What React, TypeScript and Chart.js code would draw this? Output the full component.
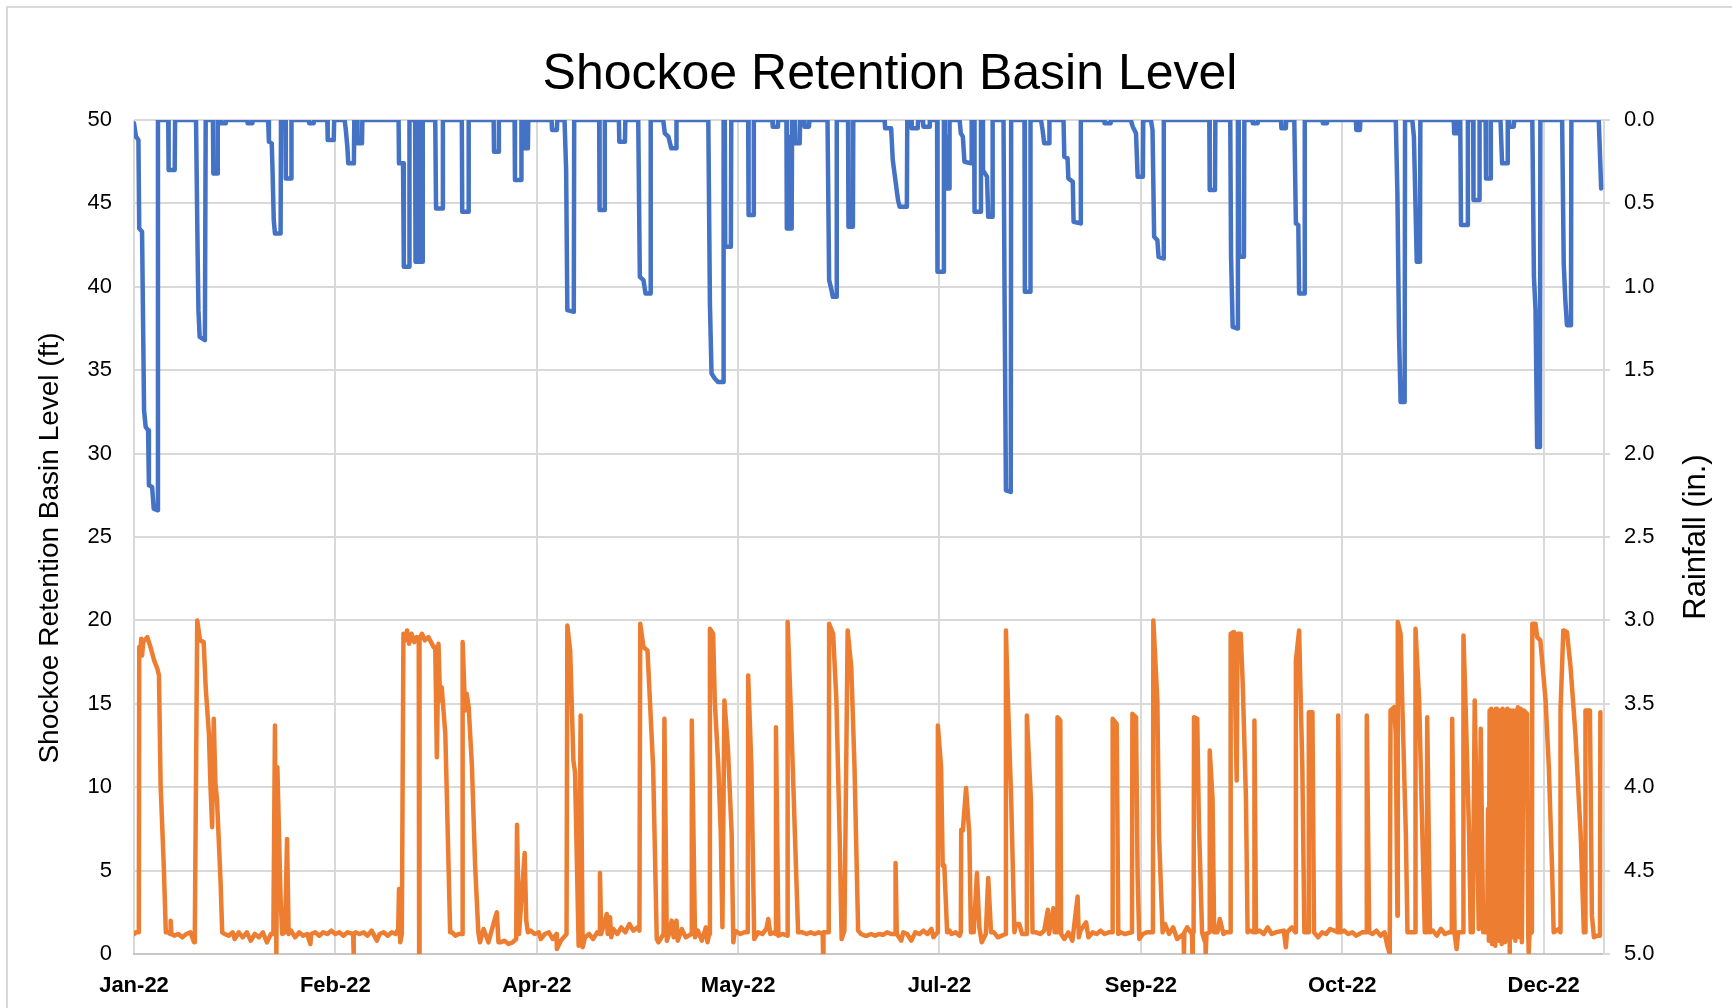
import React, { useEffect, useRef } from 'react';
import { Chart, registerables } from 'chart.js';

Chart.register(...registerables);

// ---------- text ----------
const CHART_TITLE = 'Shockoe Retention Basin Level';
const LEFT_AXIS_TITLE = 'Shockoe Retention Basin Level (ft)';
const RIGHT_AXIS_TITLE = 'Rainfall (in.)';
const MONTHS = ['Jan', 'Feb', 'Mar', 'Apr', 'May', 'Jun', 'Jul', 'Aug', 'Sep', 'Oct', 'Nov', 'Dec'];

// ---------- axes (x = days since 1 Jan 2022) ----------
const START_UTC = Date.UTC(2022, 0, 1);
const X_MIN = 0;
const X_MAX = 365;
const X_STEP = 50;
const LEVEL_MIN = 0;
const LEVEL_MAX = 50;
const LEVEL_STEP = 5;
const RAIN_MIN = 0;
const RAIN_MAX = 5;
const RAIN_STEP = 0.5;

// ---------- series: [day, rainfall in.] (right axis, reversed) ----------
const rainfall: [number, number][] = [
  [0, 0.02], [0.5, 0.1], [1.1, 0.12], [1.3, 0.65], [2.0, 0.67], [2.5, 1.74], [2.9, 1.84], [3.5, 1.86], [3.7, 2.19], [4.5, 2.2], [4.9, 2.33], [5.8, 2.34], [5.95, 0],
  [8.5, 0], [8.6, 0.3], [10.1, 0.3], [10.2, 0],
  [15.4, 0], [15.8, 0.8], [16.0, 1.14], [16.3, 1.3], [17.6, 1.32], [17.8, 0],
  [19.6, 0], [19.7, 0.32], [20.7, 0.32], [20.8, 0],
  [21.5, 0], [21.6, 0.02], [22.7, 0.02], [22.8, 0],
  [28.1, 0], [28.2, 0.02], [29.3, 0.02], [29.4, 0],
  [33.3, 0], [33.5, 0.13], [34.2, 0.14], [34.4, 0.3], [34.7, 0.6], [35.0, 0.68], [36.4, 0.68], [36.5, 0],
  [37.6, 0], [37.7, 0.35], [39.0, 0.35], [39.1, 0],
  [43.4, 0], [43.5, 0.02], [44.6, 0.02], [44.7, 0],
  [48.0, 0], [48.1, 0.12], [49.6, 0.12], [49.7, 0],
  [52.3, 0], [52.6, 0.06], [53.0, 0.17], [53.2, 0.26], [54.6, 0.26], [54.7, 0], [55.4, 0], [55.5, 0.14], [56.6, 0.14], [56.7, 0],
  [65.7, 0], [65.8, 0.26], [66.8, 0.26], [67.0, 0.88], [68.3, 0.88], [68.4, 0],
  [69.8, 0], [69.9, 0.85], [70.2, 0.85], [70.3, 0], [70.5, 0.85], [70.8, 0], [71.0, 0.85], [71.6, 0.85], [71.7, 0],
  [74.8, 0], [75.0, 0.53], [76.6, 0.53], [76.7, 0],
  [81.4, 0], [81.5, 0.55], [83.0, 0.55], [83.1, 0],
  [89.3, 0], [89.4, 0.19], [90.5, 0.19], [90.6, 0],
  [94.5, 0], [94.6, 0.36], [96.1, 0.36], [96.2, 0], [96.7, 0], [96.8, 0.17], [97.8, 0.17], [97.9, 0],
  [103.7, 0], [103.8, 0.06], [105.0, 0.06], [105.1, 0],
  [106.9, 0], [107.3, 0.3], [107.6, 1.14], [109.2, 1.15], [109.3, 0],
  [115.5, 0], [115.6, 0.54], [116.8, 0.54], [116.9, 0],
  [120.4, 0], [120.5, 0.13], [121.9, 0.13], [122.0, 0],
  [125.2, 0], [125.6, 0.94], [126.5, 0.96], [127.0, 1.04], [128.2, 1.04], [128.3, 0],
  [131.4, 0], [131.8, 0.08], [132.7, 0.1], [133.4, 0.17], [134.6, 0.17], [134.7, 0],
  [142.6, 0], [143.0, 1.1], [143.4, 1.52], [144.2, 1.55], [145.0, 1.57], [146.3, 1.57], [146.4, 0],
  [146.7, 0], [146.8, 0.76], [148.2, 0.76], [148.3, 0],
  [152.5, 0], [152.6, 0.57], [153.8, 0.57], [153.9, 0],
  [158.5, 0], [158.6, 0.04], [159.8, 0.04], [159.9, 0],
  [162.0, 0], [162.1, 0.65], [162.5, 0.65], [162.6, 0.1], [162.7, 0.65], [163.3, 0.65], [163.4, 0],
  [164.1, 0], [164.2, 0.14], [165.3, 0.14], [165.4, 0],
  [166.4, 0], [166.5, 0.04], [167.6, 0.04], [167.7, 0],
  [172.2, 0], [172.6, 0.96], [173.2, 1.02], [173.5, 1.06], [174.4, 1.06], [174.5, 0],
  [177.3, 0], [177.4, 0.64], [178.5, 0.64], [178.6, 0],
  [186.4, 0], [186.5, 0.05], [188.0, 0.05], [188.4, 0.24], [189.7, 0.48], [190.1, 0.52], [191.9, 0.52], [192.0, 0],
  [193.0, 0], [193.1, 0.05], [194.6, 0.05], [194.7, 0],
  [195.9, 0], [196.0, 0.04], [197.5, 0.04], [197.6, 0],
  [199.4, 0], [199.5, 0.91], [201.0, 0.91], [201.1, 0], [201.3, 0], [201.4, 0.41], [201.8, 0.1], [202.0, 0.41], [202.4, 0.41], [202.5, 0],
  [205.0, 0], [205.3, 0.08], [205.8, 0.1], [206.2, 0.25], [207.9, 0.26], [208.0, 0],
  [208.6, 0], [208.7, 0.55], [210.2, 0.55], [210.3, 0], [210.6, 0], [210.8, 0.3], [211.8, 0.34], [212.1, 0.58], [213.1, 0.58], [213.2, 0],
  [215.9, 0], [216.2, 1.2], [216.5, 2.22], [217.7, 2.23], [217.8, 0],
  [221.1, 0], [221.2, 1.03], [222.5, 1.03], [222.6, 0],
  [225.2, 0], [225.6, 0.06], [226.0, 0.14], [227.2, 0.14], [227.3, 0],
  [230.8, 0], [231.0, 0.22], [231.8, 0.23], [232.0, 0.35], [233.1, 0.37], [233.3, 0.61], [235.0, 0.62], [235.1, 0],
  [240.9, 0], [241.0, 0.02], [242.5, 0.02], [242.6, 0],
  [247.5, 0], [248.0, 0.04], [248.8, 0.08], [249.2, 0.34], [250.5, 0.34], [250.6, 0],
  [252.5, 0], [252.9, 0.06], [253.3, 0.7], [254.1, 0.72], [254.4, 0.82], [255.6, 0.83], [255.7, 0],
  [267.0, 0], [267.1, 0.42], [268.4, 0.42], [268.5, 0],
  [272.2, 0], [272.4, 0.82], [272.8, 1.24], [274.0, 1.25], [274.1, 0], [274.3, 0], [274.4, 0.82], [275.6, 0.82], [275.7, 0],
  [277.7, 0], [277.8, 0.02], [279.0, 0.02], [279.1, 0],
  [284.8, 0], [284.9, 0.05], [286.0, 0.05], [286.1, 0],
  [288.1, 0], [288.5, 0.62], [289.1, 0.63], [289.3, 1.04], [290.6, 1.04], [290.7, 0],
  [295.1, 0], [295.2, 0.02], [296.2, 0.02], [296.3, 0],
  [303.4, 0], [303.5, 0.06], [304.4, 0.06], [304.5, 0],
  [313.3, 0], [313.7, 0.44], [314.1, 1.28], [314.5, 1.69], [315.5, 1.69], [315.6, 0],
  [317.4, 0], [317.8, 0.1], [318.2, 0.52], [318.5, 0.85], [319.3, 0.85], [319.4, 0],
  [327.7, 0], [327.8, 0.08], [328.7, 0.08], [328.8, 0],
  [329.3, 0], [329.5, 0.63], [331.1, 0.63], [331.2, 0],
  [332.5, 0], [332.6, 0.48], [334.0, 0.48], [334.1, 0],
  [335.6, 0], [335.7, 0.35], [336.8, 0.35], [336.9, 0],
  [339.3, 0], [339.7, 0.26], [341.0, 0.26], [341.1, 0],
  [341.4, 0], [341.5, 0.04], [342.6, 0.04], [342.7, 0],
  [347.2, 0], [347.6, 0.94], [348.0, 1.14], [348.4, 1.96], [349.1, 1.96], [349.2, 0],
  [354.6, 0], [355.0, 0.86], [355.4, 1.08], [355.8, 1.23], [356.8, 1.23], [356.9, 0],
  [363.7, 0], [364.3, 0.41],
];

// ---------- series: [day, basin level ft] (left axis) ----------
const basinLevel: [number, number][] = [
  [0, 1.2], [0.5, 1.3], [1.2, 1.3], [1.3, 18.4], [1.6, 18.2], [1.8, 18.9], [2.0, 17.9], [2.3, 18.7], [2.6, 18.8], [3.3, 19.0], [4.1, 18.4], [5.0, 17.6], [5.8, 17.1], [6.2, 16.7], [6.6, 10.2], [7.4, 5.2], [7.9, 1.3],
  [8.5, 1.3], [9.0, 1.2], [9.1, 2.0], [9.3, 1.2], [10.0, 1.1], [11.0, 1.2], [12.0, 1.0], [13.0, 1.2], [14.0, 1.3], [14.9, 0.7], [15.1, 1.2],
  [15.7, 20.0], [16.4, 18.8], [17.3, 18.7], [17.8, 16.0], [18.6, 13.2], [19.0, 10.0], [19.4, 7.6], [19.8, 14.1], [20.2, 10.3], [20.6, 9.3], [21.5, 4.3], [21.9, 1.3],
  [22.5, 1.2], [23.5, 1.1], [24.5, 1.3], [25.0, 0.9], [26.0, 1.3], [27.0, 1.0], [28.0, 1.3], [29.0, 0.8], [30.0, 1.2], [31.0, 1.0], [32.0, 1.3], [33.0, 0.7], [34.0, 1.2],
  [34.6, 1.2], [35.0, 13.7], [35.2, 5.0], [35.35, 0], [35.6, 11.2], [36.4, 3.3], [36.8, 1.2], [37.5, 1.3], [38.0, 6.9], [38.4, 1.2],
  [39.0, 1.4], [40.0, 1.0], [41.0, 1.3], [42.0, 1.1], [43.0, 1.2], [43.8, 0.6], [44.0, 1.2], [45.0, 1.3], [46.0, 1.1], [47.0, 1.3], [48.0, 1.2], [49.0, 1.4], [50.0, 1.2],
  [51.0, 1.3], [52.0, 1.1], [53.0, 1.3], [54.4, 1.2], [54.5, 0], [54.6, 1.2], [55.0, 1.3], [56.0, 1.2], [57.0, 1.3], [58.0, 1.1], [59.0, 1.4], [60.3, 0.8], [61.0, 1.2],
  [62.0, 1.3], [63.0, 1.1], [64.0, 1.3], [65.0, 1.2], [65.6, 1.5], [65.8, 3.9], [66.1, 0.7], [66.5, 1.2],
  [66.9, 19.2], [67.3, 18.8], [67.8, 19.4], [68.3, 18.6], [68.9, 19.2], [69.6, 18.7], [70.2, 19.0], [70.7, 18.9], [70.8, 0], [70.9, 18.9], [71.5, 19.2], [72.2, 18.8], [73.1, 19.0],
  [74.4, 18.4], [74.8, 18.4], [75.2, 11.8], [75.6, 18.6], [76.0, 15.2], [76.4, 16.0], [77.3, 13.2], [77.7, 9.3], [78.5, 1.3], [79.0, 1.3], [79.8, 1.1], [80.6, 1.2],
  [81.5, 1.2], [81.6, 18.7], [82.2, 14.6], [82.6, 15.6], [83.1, 14.8], [83.9, 11.3], [84.7, 5.3], [85.5, 1.3], [85.9, 0.7], [86.8, 1.5], [88.0, 0.7], [89.7, 2.2],
  [90.1, 2.5], [90.5, 0.7], [91.0, 0.7], [92.0, 0.8], [93.0, 0.6], [94.0, 0.7], [94.9, 0.9], [95.1, 7.75], [95.6, 1.2], [97.0, 6.05], [97.4, 2.0], [97.8, 1.3],
  [98.5, 1.4], [99.5, 1.2], [100.5, 1.3], [101.0, 0.9], [102.0, 1.2], [103.0, 1.3], [104.0, 0.9], [104.9, 1.2], [105.0, 0.3], [106.0, 0.8], [107.4, 1.2],
  [107.6, 19.7], [108.3, 18.2], [109.1, 11.6], [109.5, 10.9], [110.4, 0.5], [110.9, 14.3], [111.4, 0.4],
  [112.0, 1.0], [113.0, 1.2], [114.0, 0.9], [115.0, 1.3], [115.6, 1.2], [115.7, 4.85], [116.0, 1.2], [117.4, 2.4], [117.6, 1.2], [118.2, 2.2], [118.5, 1.0],
  [119.0, 1.5], [120.0, 1.2], [121.0, 1.6], [122.0, 1.3], [123.0, 1.8], [124.0, 1.4], [125.0, 1.6], [125.5, 1.4],
  [125.7, 19.8], [126.5, 18.4], [127.5, 18.2], [128.1, 15.2], [128.9, 11.2], [129.8, 0.9], [130.2, 0.7],
  [131.5, 1.2], [131.7, 14.1], [132.3, 0.8], [133.0, 1.3], [133.5, 2.0], [134.0, 1.0], [134.7, 2.0], [135.0, 0.8], [136.0, 1.5], [137.0, 1.0],
  [138.4, 1.2], [138.5, 14.0], [139.3, 1.0], [140.0, 1.4], [141.0, 0.8], [142.0, 1.6], [142.4, 0.7], [142.8, 1.2],
  [143.0, 19.5], [143.8, 19.2], [144.2, 15.2], [145.1, 11.2], [145.7, 7.2], [146.1, 1.6], [146.6, 15.2], [147.5, 12.2], [148.4, 7.2], [148.8, 0.7],
  [149.2, 1.4], [149.9, 1.3], [150.5, 1.2], [151.5, 1.3], [152.4, 1.3], [152.5, 16.7], [153.3, 11.2], [153.7, 5.3], [154.0, 0.9],
  [155.0, 1.3], [156.0, 1.2], [157.0, 1.5], [157.5, 2.1], [158.0, 1.2], [159.0, 1.3], [159.3, 1.2], [159.4, 13.6], [160.0, 1.1], [161.0, 1.2],
  [162.2, 1.1], [162.3, 19.9], [163.3, 13.2], [164.1, 7.2], [164.9, 1.3], [166.0, 1.3], [167.0, 1.2], [168.0, 1.3], [169.0, 1.2], [170.0, 1.3], [171.0, 1.2], [171.1, 0], [171.2, 1.3],
  [172.5, 1.3], [172.6, 19.8], [173.6, 19.2], [174.4, 15.2], [175.2, 7.2], [175.7, 0.9], [176.4, 1.4], [177.2, 19.4], [178.1, 17.2], [178.9, 11.2], [179.8, 1.4],
  [180.5, 1.2], [181.5, 1.1], [182.0, 1.1], [183.0, 1.2], [184.0, 1.1], [185.0, 1.2], [186.0, 1.15], [187.0, 1.3], [188.0, 1.2], [189.0, 1.2], [189.1, 5.45], [189.4, 1.2],
  [190.5, 0.8], [191.0, 1.3], [192.0, 1.2], [193.0, 0.8], [194.0, 1.3], [195.0, 1.2], [196.0, 1.4], [197.0, 1.2], [198.0, 1.5], [198.5, 1.0],
  [199.5, 1.3], [199.6, 13.7], [200.4, 11.2], [200.8, 5.3], [201.2, 5.3], [201.9, 1.3], [202.5, 1.4], [203.0, 1.2], [204.0, 1.3], [205.0, 1.1], [205.3, 1.3],
  [205.4, 7.45], [205.8, 7.4], [206.6, 9.95], [207.4, 7.2], [207.8, 1.3], [208.5, 1.3], [209.3, 4.85], [209.9, 1.6], [210.5, 0.7], [211.5, 1.2], [212.1, 4.55], [212.8, 1.3],
  [213.5, 1.3], [214.5, 1.0], [216.4, 1.2], [216.5, 19.4], [217.0, 15.2], [217.8, 9.3], [218.6, 1.3], [219.0, 1.8], [219.8, 1.8], [220.5, 1.2],
  [221.6, 1.2], [221.7, 14.3], [222.3, 11.2], [222.7, 9.3], [223.1, 1.3], [224.0, 1.3], [225.0, 1.2], [226.0, 1.4], [226.9, 2.65], [227.2, 1.2], [228.3, 2.75], [228.6, 1.3],
  [229.2, 1.3], [229.3, 14.2], [230.0, 14.0], [230.2, 1.2], [231.0, 0.9], [232.0, 1.3], [233.0, 0.8], [234.3, 3.45], [234.6, 1.0], [235.0, 1.4], [236.4, 1.9], [237.0, 1.0],
  [238.0, 1.3], [239.0, 1.2], [240.0, 1.4], [241.0, 1.2], [242.0, 1.3], [242.9, 1.3], [243.0, 14.1], [244.0, 13.8], [244.4, 1.2], [245.0, 1.3], [246.0, 1.2],
  [247.8, 1.3], [247.9, 14.4], [248.8, 14.2], [249.2, 4.65], [249.6, 0.9], [250.5, 1.2], [251.5, 1.3],
  [253.0, 1.3], [253.1, 20.0], [254.1, 15.2], [254.5, 7.2], [255.4, 1.3], [256.0, 1.8], [257.0, 1.2], [258.0, 1.6], [259.0, 0.9], [260.6, 1.2], [260.7, 0], [260.8, 1.3],
  [261.5, 1.6], [262.7, 1.2], [262.8, 0], [262.9, 1.3], [263.1, 1.3], [263.2, 14.2], [264.0, 14.1], [264.4, 8.05], [265.2, 1.3], [265.8, 0.8], [266.0, 1.2], [266.1, 0], [266.3, 1.2],
  [267.0, 1.3], [267.1, 12.2], [267.8, 9.3], [268.2, 1.3], [269.0, 1.3], [269.6, 2.1], [270.5, 1.2], [271.0, 1.3],
  [272.2, 1.3], [272.3, 19.2], [273.1, 19.3], [273.8, 10.4], [274.0, 19.2], [274.8, 19.2], [275.3, 16.2], [276.1, 9.3], [276.5, 1.3], [277.0, 1.4],
  [278.1, 1.3], [278.2, 14.0], [278.6, 1.3], [279.5, 1.4], [280.5, 1.2], [281.5, 1.6], [282.5, 1.2], [283.5, 1.3], [285.5, 1.4], [286.0, 0.4], [286.3, 1.3], [287.5, 1.6],
  [288.4, 1.3], [288.5, 17.6], [289.3, 19.4], [289.7, 15.2], [290.1, 11.2], [290.6, 1.3], [291.6, 1.3], [291.7, 14.5], [292.6, 14.5], [293.0, 1.3],
  [294.0, 1.0], [295.0, 1.3], [296.0, 1.2], [297.0, 1.5], [298.0, 1.4], [298.9, 1.3], [299.0, 14.3], [299.5, 1.3], [300.5, 1.4], [301.5, 1.2], [302.5, 1.3], [303.5, 1.1],
  [305.0, 1.3], [306.0, 1.3], [306.1, 14.3], [306.7, 1.3], [307.5, 1.2], [308.5, 1.4], [309.5, 1.1], [310.5, 1.3], [311.2, 0.5], [311.8, 0],
  [312.0, 14.6], [312.9, 14.8], [313.3, 13.2], [313.7, 2.3], [313.8, 19.9], [314.5, 19.2], [314.9, 15.2], [315.8, 7.2], [316.2, 1.3], [317.2, 1.3],
  [318.1, 1.3], [318.2, 19.5], [319.1, 15.2], [319.9, 7.2], [320.5, 1.3], [321.0, 1.3], [321.1, 14.2], [321.8, 1.3],
  [322.5, 1.4], [323.5, 1.1], [324.5, 1.5], [325.5, 1.2], [326.5, 1.3], [327.2, 1.3], [327.3, 14.1], [327.9, 1.2], [328.4, 0.3], [328.8, 1.3],
  [330.0, 1.3], [330.1, 19.1], [330.6, 15.2], [331.5, 7.2], [331.9, 1.3], [332.4, 1.3], [332.9, 15.2], [333.5, 7.2], [333.9, 1.5], [334.4, 13.5], [335.0, 1.3],
  [336.0, 1.3], [336.2, 8.7], [336.4, 0.8], [336.6, 14.6], [336.8, 1.0], [337.0, 14.7], [337.2, 0.6], [337.4, 14.5], [337.6, 1.2], [337.8, 14.6], [338.0, 0.5],
  [338.2, 14.7], [338.4, 1.0], [338.6, 13.0], [338.8, 0.8], [339.0, 14.6], [339.2, 1.1], [339.4, 14.5], [339.6, 0.6], [339.8, 14.7], [340.0, 1.0], [340.2, 12.8],
  [340.4, 0.7], [340.6, 14.6], [340.8, 1.2], [341.0, 14.7], [341.2, 0.8], [341.4, 14.5], [341.6, 0.1], [341.8, 14.6], [342.0, 12.6], [342.2, 1.0], [342.4, 14.6],
  [342.6, 1.2], [342.8, 14.5], [343.0, 0.8], [343.2, 14.6], [343.4, 1.3], [343.6, 14.8], [343.8, 12.5], [344.0, 1.0], [344.3, 14.7], [344.6, 0.7],
  [345.1, 14.6], [345.9, 14.4], [346.2, 1.0], [346.3, 0.1], [346.5, 1.2], [347.1, 1.3],
  [347.2, 19.8], [348.0, 19.8], [348.4, 19.0], [349.2, 18.8], [350.5, 15.2], [351.3, 11.2], [352.1, 5.2], [352.5, 1.3], [353.8, 1.5], [354.1, 1.3],
  [354.2, 14.6], [354.9, 19.4], [355.8, 19.3], [356.7, 17.2], [357.9, 13.2], [359.2, 7.2], [360.0, 1.3], [360.3, 1.3], [360.4, 14.6], [361.5, 14.6],
  [362.0, 2.3], [362.5, 1.0], [363.3, 1.1], [364.0, 1.1], [364.1, 14.5],
];

const BLUE = '#4472C4';
const ORANGE = '#ED7D31';
const GRID = '#d9d9d9';
const FONT = '"Liberation Sans", Arial, sans-serif';

function dayLabel(v: number): string {
  const d = new Date(START_UTC + v * 86400000);
  return `${MONTHS[d.getUTCMonth()]}-${String(d.getUTCFullYear()).slice(2)}`;
}

const decorPlugin = {
  id: 'decor',
  beforeDraw(chart: any) {
    const { ctx, width, height } = chart;
    ctx.save();
    ctx.fillStyle = '#ffffff';
    ctx.fillRect(0, 0, width, height);
    ctx.strokeStyle = '#d9d9d9';
    ctx.lineWidth = 2;
    ctx.strokeRect(7, 7, width + 20, height + 20);
    ctx.restore();
  },
  afterDraw(chart: any) {
    const { ctx, chartArea } = chart;
    const midY = (chartArea.top + chartArea.bottom) / 2;
    ctx.save();
    ctx.fillStyle = '#000000';
    ctx.textAlign = 'center';
    ctx.textBaseline = 'alphabetic';
    ctx.font = `50px ${FONT}`;
    ctx.fillText(CHART_TITLE, 890, 89);

    ctx.textBaseline = 'middle';
    ctx.font = `28px ${FONT}`;
    ctx.save();
    ctx.translate(50, midY + 11);
    ctx.rotate(-Math.PI / 2);
    ctx.fillText(LEFT_AXIS_TITLE, 0, 0);
    ctx.restore();

    ctx.font = `31px ${FONT}`;
    ctx.save();
    ctx.translate(1696, midY);
    ctx.rotate(-Math.PI / 2);
    ctx.fillText(RIGHT_AXIS_TITLE, 0, 0);
    ctx.restore();
    ctx.restore();
  },
};

export default function App() {
  const canvasRef = useRef<HTMLCanvasElement | null>(null);

  useEffect(() => {
    const canvas = canvasRef.current;
    if (!canvas) return;
    const chart = new Chart(canvas, {
      type: 'line',
      data: {
        datasets: [
          {
            label: 'Rainfall (in.)',
            data: rainfall.map(([x, y]) => ({ x, y })),
            yAxisID: 'y1',
            borderColor: BLUE,
            backgroundColor: BLUE,
            borderWidth: 4.5,
            pointRadius: 0,
            tension: 0,
            borderJoinStyle: 'round',
            borderCapStyle: 'round',
            fill: false,
          },
          {
            label: 'Basin Level (ft)',
            data: basinLevel.map(([x, y]) => ({ x, y })),
            yAxisID: 'y',
            borderColor: ORANGE,
            backgroundColor: ORANGE,
            borderWidth: 4.5,
            pointRadius: 0,
            tension: 0,
            borderJoinStyle: 'round',
            borderCapStyle: 'round',
            fill: false,
          },
        ],
      },
      options: {
        animation: false,
        responsive: false,
        devicePixelRatio: 1,
        layout: { padding: { top: 120, left: 0, right: 0, bottom: 0 } },
        plugins: {
          legend: { display: false },
          title: { display: false },
          tooltip: { enabled: false },
        },
        scales: {
          x: {
            type: 'linear',
            min: X_MIN,
            max: X_MAX,
            afterFit: (s: any) => { s.height = 54; },
            ticks: {
              stepSize: X_STEP,
              includeBounds: false,
              autoSkip: false,
              maxRotation: 0,
              padding: 19,
              color: '#000000',
              font: { family: FONT, size: 22, weight: 'bold' },
              callback: (v: any) => dayLabel(Number(v)),
            },
            grid: { color: GRID, lineWidth: 2, drawTicks: false },
            border: { display: true, color: '#c8c8c8', width: 2 },
          },
          y: {
            position: 'left',
            min: LEVEL_MIN,
            max: LEVEL_MAX,
            afterFit: (s: any) => { s.width = 134; },
            ticks: {
              stepSize: LEVEL_STEP,
              padding: 22,
              color: '#000000',
              font: { family: FONT, size: 22 },
            },
            grid: { color: GRID, lineWidth: 2, drawTicks: false },
            border: { display: false },
          },
          y1: {
            position: 'right',
            reverse: true,
            min: RAIN_MIN,
            max: RAIN_MAX,
            afterFit: (s: any) => { s.width = 128; },
            ticks: {
              stepSize: RAIN_STEP,
              padding: 14,
              color: '#000000',
              font: { family: FONT, size: 22 },
              callback: (v: any) => Number(v).toFixed(1),
            },
            grid: { drawOnChartArea: false, drawTicks: true, tickLength: 6, color: GRID, lineWidth: 2 },
            border: { display: true, color: GRID, width: 2 },
          },
        },
      } as any,
      plugins: [decorPlugin],
    });
    return () => chart.destroy();
  }, []);

  return (
    <div style={{ position: 'fixed', left: 0, top: 0, width: 1732, height: 1008, background: '#ffffff' }}>
      <canvas ref={canvasRef} width={1732} height={1008} style={{ display: 'block', width: 1732, height: 1008 }} />
    </div>
  );
}
